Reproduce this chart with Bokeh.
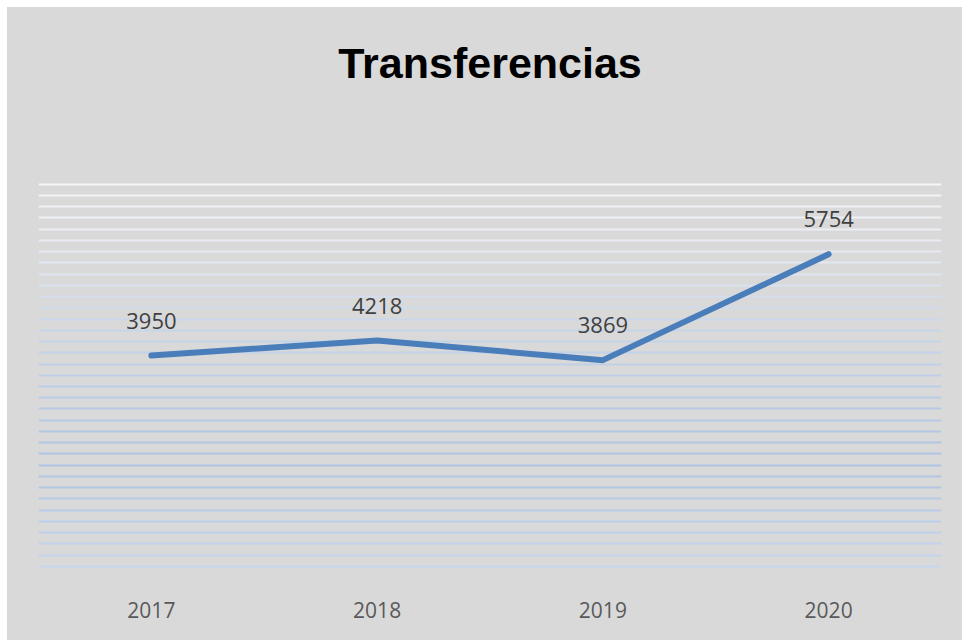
from bokeh.plotting import figure
from bokeh.models import Range1d, FixedTicker, Label, ColumnDataSource
from bokeh.core.properties import value
from bokeh.embed import file_html
from bokeh.resources import INLINE

# ---- data ----
years = [2017, 2018, 2019, 2020]
year_labels = ["2017", "2018", "2019", "2020"]
transferencias = [3950, 4218, 3869, 5754]
grid_values = list(range(200, 7001, 200))
title_text = "Transferencias"

BG = "#d9d9d9"

def hex_to_rgb(h):
    h = h.lstrip("#")
    return tuple(int(h[i:i + 2], 16) for i in (0, 2, 4))

def grad_color(v, stops):
    for (v0, c0), (v1, c1) in zip(stops, stops[1:]):
        if v0 >= v >= v1:
            t = (v0 - v) / (v0 - v1) if v0 != v1 else 0
            a, b = hex_to_rgb(c0), hex_to_rgb(c1)
            r = [round(a[i] + (b[i] - a[i]) * t) for i in range(3)]
            return "#%02x%02x%02x" % tuple(r)
    return stops[-1][1]

stops = [(7000, "#f6f6f6"), (5600, "#e2e8f1"), (4400, "#c6d5ea"),
         (2000, "#aec3e3"), (200, "#c6d6ed")]
grid_colors = [grad_color(v, stops) for v in grid_values]

p = figure(width=955, height=633, output_backend="svg", toolbar_location=None,
           x_range=Range1d(2016.5, 2020.5), y_range=Range1d(0, 10146),
           y_axis_location=None, min_border_left=31, min_border_right=21,
           min_border_top=0, min_border_bottom=63, margin=(7, 0, 0, 7),
           styles={"background-color": BG})
p.background_fill_color = BG
p.border_fill_color = BG
p.outline_line_color = None
p.xgrid.visible = False
p.ygrid.visible = False

# gradient horizontal gridlines
p.hspan(y=grid_values, line_color=grid_colors, line_width=2)

src = ColumnDataSource(dict(x=years, y=transferencias,
                            lab=[str(v) for v in transferencias]))
p.line("x", "y", source=src, line_color="#4a7ebb", line_width=6,
       line_cap="round", line_join="round")
p.text("x", "y", text="lab", source=src, y_offset=-35,
       text_align="center", text_baseline="middle",
       text_font=value("Open Sans"), text_font_size="22px",
       text_color="#404040")

ax = p.xaxis[0]
ax.ticker = FixedTicker(ticks=years)
ax.major_label_overrides = {y: l for y, l in zip(years, year_labels)}
ax.axis_line_color = None
ax.major_tick_line_color = None
ax.minor_tick_line_color = None
ax.major_tick_out = 0
ax.major_tick_in = 0
ax.major_label_standoff = 24
ax.major_label_text_font = "Open Sans"
ax.major_label_text_font_size = "21px"
ax.major_label_text_color = "#595959"

title = Label(x=2018.5, y=9167, text=title_text, text_align="center",
              text_baseline="middle", text_font="Liberation Sans",
              text_font_style="bold", text_font_size="43px",
              text_color="#000000")
p.add_layout(title)

open("out.html", "w").write(file_html(p, INLINE))
